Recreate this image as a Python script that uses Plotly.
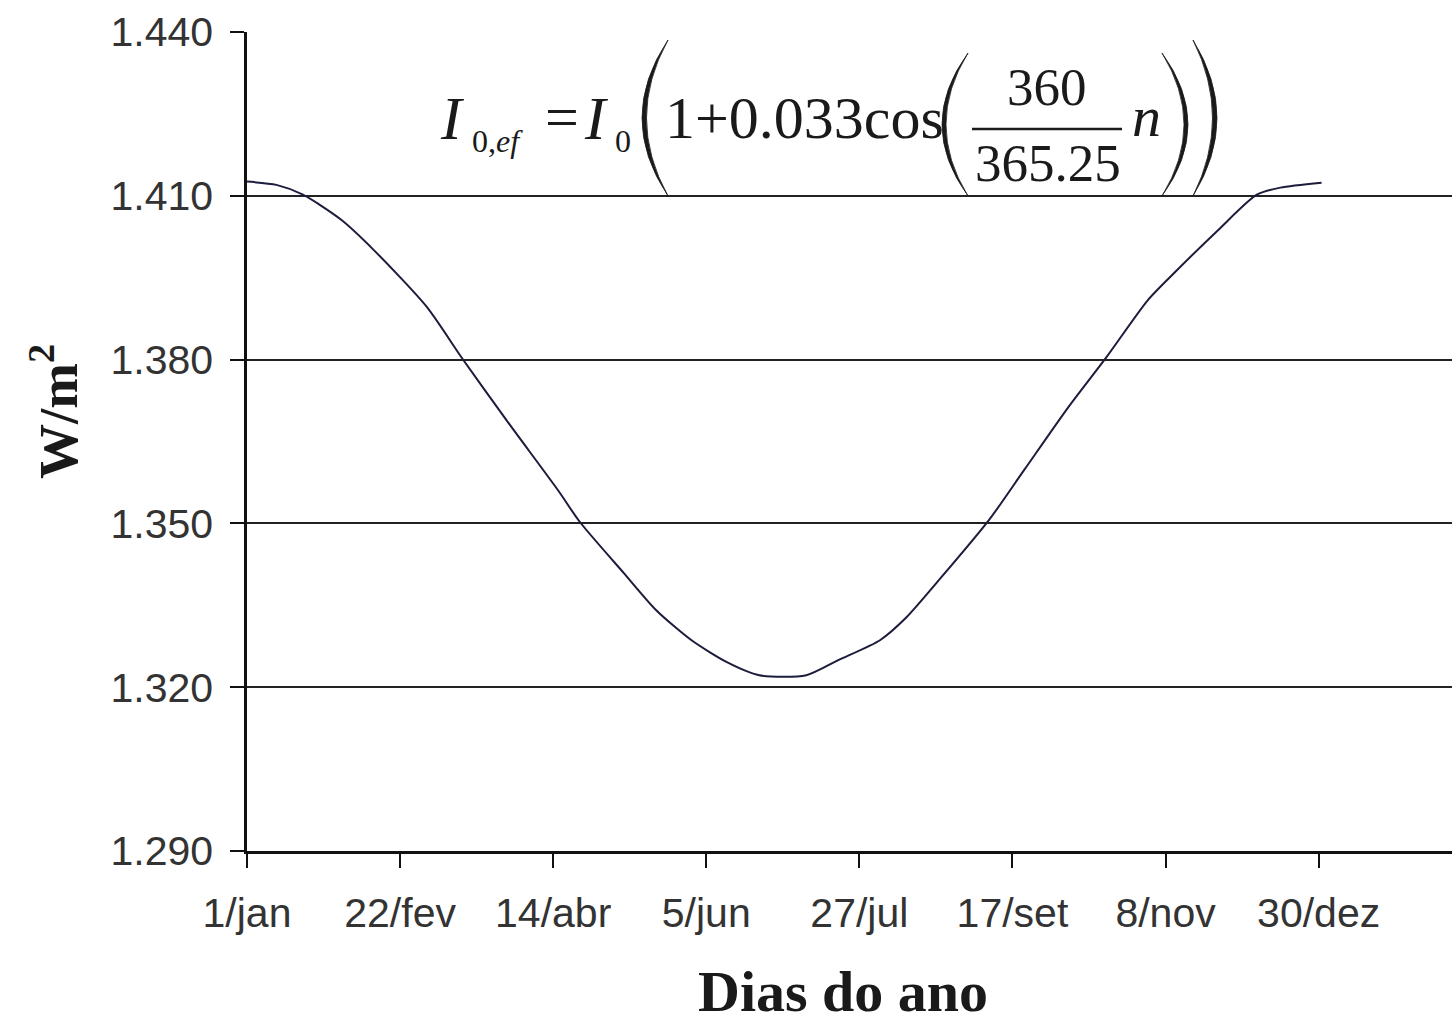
import plotly.graph_objects as go

# Effective extraterrestrial irradiance over the year (W/m²), day-of-year samples
days = [1, 11, 20, 33, 44, 62, 74, 89, 107, 114, 129, 140, 152, 164, 175,
        191, 202, 216, 225, 236, 253, 265, 280, 293, 307, 316, 331, 344, 352, 366]
irradiance = [1412.6, 1412.0, 1410.2, 1405.6, 1400.1, 1389.7, 1380.3, 1369.0,
              1355.8, 1350.3, 1340.9, 1334.1, 1328.6, 1324.6, 1322.2, 1322.2,
              1325.0, 1328.6, 1332.8, 1339.6, 1350.6, 1359.8, 1371.3, 1380.5,
              1390.9, 1395.9, 1403.8, 1410.2, 1411.5, 1412.4]

x_tick_days = [1, 53, 105, 157, 209, 261, 313, 365]
x_tick_text = ["1/jan", "22/fev", "14/abr", "5/jun", "27/jul", "17/set", "8/nov", "30/dez"]
y_tick_vals = [1290, 1320, 1350, 1380, 1410, 1440]
y_tick_text = ["1.290", "1.320", "1.350", "1.380", "1.410", "1.440"]

W, H = 1452, 1024
L, R, T, B = 247, 0, 32, 173
X_RANGE = [1, 410.3]
Y_RANGE = [1290, 1440]

SERIF = "Liberation Serif, Times New Roman, serif"
SANS = "Liberation Sans, Arial, sans-serif"
INK = "#1a1a1a"


def px(xp):
    return (xp - L) / (W - L - R)


def py(yp):
    return (H - B - yp) / (H - T - B)


def paren_path(x_end, x_bulge, y_top, y_bot, thick):
    """Filled crescent shaped like a tall parenthesis (paper coordinates)."""
    y_mid = (y_top + y_bot) / 2
    inner = x_bulge + thick if x_bulge < x_end else x_bulge - thick
    c_out = 2 * x_bulge - x_end
    c_in = 2 * inner - x_end
    return (f"M {px(x_end)},{py(y_top)} "
            f"Q {px(c_out)},{py(y_mid)} {px(x_end)},{py(y_bot)} "
            f"Q {px(c_in)},{py(y_mid)} {px(x_end)},{py(y_top)} Z")


fig = go.Figure()
fig.add_trace(go.Scatter(
    x=days, y=irradiance, mode="lines",
    line=dict(color="#1c1c3c", width=2, shape="spline", smoothing=0.7),
    showlegend=False, hoverinfo="x+y",
))

fig.update_layout(
    width=W, height=H,
    margin=dict(l=L, r=R, t=T, b=B, pad=0),
    paper_bgcolor="white", plot_bgcolor="white",
    showlegend=False,
)

fig.update_xaxes(
    range=X_RANGE, tickmode="array", tickvals=x_tick_days, ticktext=x_tick_text,
    showgrid=False, zeroline=False,
    showline=True, linecolor="#111", linewidth=2.5,
    ticks="outside", ticklen=14, tickwidth=2, tickcolor="#111",
    tickfont=dict(family=SANS, size=41, color="#333"),
    ticklabelstandoff=10, automargin=False,
)
fig.update_yaxes(
    range=Y_RANGE, tickmode="array", tickvals=y_tick_vals, ticktext=y_tick_text,
    showgrid=True, gridcolor="#222", gridwidth=2, zeroline=False,
    showline=True, linecolor="#111", linewidth=2.5,
    ticks="outside", ticklen=14, tickwidth=2, tickcolor="#111",
    tickfont=dict(family=SANS, size=41, color="#333"),
    ticklabelstandoff=9, automargin=False,
)

annotations = []


def text(t, x, y, size, xanchor="left", family=SERIF, **kw):
    annotations.append(dict(
        text=t, x=px(x), y=py(y), xref="paper", yref="paper",
        xanchor=xanchor, yanchor="middle", showarrow=False,
        font=dict(family=family, size=size, color=INK), **kw))


# axis titles
text("<b>Dias do ano</b>", 843, 991, 58, xanchor="center")
annotations.append(dict(
    text="<b>W/m<sup>2</sup></b>", x=px(54), y=py(411), xref="paper", yref="paper",
    xanchor="center", yanchor="middle", showarrow=False, textangle=-90,
    font=dict(family=SERIF, size=55, color=INK)))

# formula: I_{0,ef} = I_0 (1 + 0.033 cos(360/365.25 n))
text("<i>I</i>", 438, 118, 62)
text("0,<i>ef</i>", 470, 141, 32)
text("=", 543, 117, 60)
text("<i>I</i>", 582, 118, 62)
text("0", 613, 141, 32)
text("1+0.033cos", 663, 118, 60)
text("360", 1047, 87, 53, xanchor="center")
text("365.25", 1048, 163, 53, xanchor="center")
text("<i>n</i>", 1130, 117, 58)

fig.update_layout(annotations=annotations)

shapes = [
    dict(type="line", xref="paper", yref="paper",
         x0=px(972), x1=px(1122), y0=py(129), y1=py(129),
         line=dict(color=INK, width=2.5)),
]
for x_end, x_bulge, y_top, y_bot, thick in [
    (668, 642, 40, 196, 4.5),
    (968, 942, 53, 196, 4),
    (1162, 1188, 53, 196, 4),
    (1193, 1217, 40, 196, 4.5),
]:
    shapes.append(dict(type="path", xref="paper", yref="paper",
                       path=paren_path(x_end, x_bulge, y_top, y_bot, thick),
                       fillcolor=INK, line=dict(color=INK, width=0.8)))
fig.update_layout(shapes=shapes)

fig.write_html("out.html")
